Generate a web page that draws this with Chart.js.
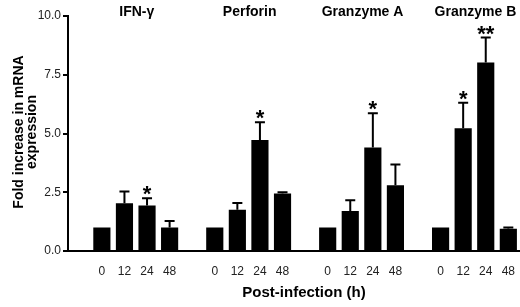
<!DOCTYPE html>
<html>
<head>
<meta charset="utf-8">
<script src="https://cdn.jsdelivr.net/npm/chart.js@4/dist/chart.umd.min.js"></script>
<style>
  html, body { margin: 0; padding: 0; background: #fff; }
  #wrap { width: 520px; height: 307px; position: relative; }
</style>
</head>
<body>
<div id="wrap"><canvas id="mrnaChart"></canvas></div>
<script>
const groups = ["IFN-γ", "Perforin", "Granzyme A", "Granzyme B"];
const timepoints = ["0", "12", "24", "48"];

const ifnMean = [1.0, 2.03, 1.94, 1.0];
const ifnErr = [0, 0.5, 0.3, 0.28];
const perforinMean = [1.0, 1.76, 4.72, 2.45];
const perforinErr = [0, 0.28, 0.76, 0.05];
const gzmAMean = [1.0, 1.7, 4.4, 2.8];
const gzmAErr = [0, 0.46, 1.46, 0.88];
const gzmBMean = [1.0, 5.22, 8.02, 0.95];
const gzmBErr = [0, 1.09, 1.06, 0.05];

const ifnSig = ["", "", "*", ""];
const perforinSig = ["", "", "*", ""];
const gzmASig = ["", "", "*", ""];
const gzmBSig = ["", "*", "**", ""];

const yTicks = [0, 2.5, 5, 7.5, 10];

const means = [ifnMean, perforinMean, gzmAMean, gzmBMean];
const errs = [ifnErr, perforinErr, gzmAErr, gzmBErr];
const sigs = [ifnSig, perforinSig, gzmASig, gzmBSig];

// each group gets an empty slot in front of it
const labels = [];
const values = [];
const errors = [];
const stars = [];
means.forEach((m, g) => {
  labels.push("");
  values.push(null);
  errors.push(null);
  stars.push("");
  timepoints.forEach((t, i) => {
    labels.push(t);
    values.push(m[i]);
    errors.push(errs[g][i]);
    stars.push(sigs[g][i]);
  });
});

const annotations = {
  id: "annotations",
  afterDatasetsDraw(chart) {
    const { ctx, scales } = chart;
    const y = scales.y;
    const meta = chart.getDatasetMeta(0);
    ctx.save();
    ctx.strokeStyle = "#000";
    ctx.fillStyle = "#000";
    ctx.lineWidth = 2;
    meta.data.forEach((bar, i) => {
      if (values[i] == null) return;
      let top = bar.y;
      if (errors[i] > 0) {
        top = y.getPixelForValue(values[i] + errors[i]);
        ctx.beginPath();
        ctx.moveTo(bar.x, bar.y);
        ctx.lineTo(bar.x, top);
        ctx.moveTo(bar.x - 5, top);
        ctx.lineTo(bar.x + 5, top);
        ctx.stroke();
      }
      if (stars[i]) {
        ctx.font = "bold 22px 'Liberation Sans', Arial, sans-serif";
        ctx.textAlign = "center";
        ctx.textBaseline = "alphabetic";
        ctx.fillText(stars[i], bar.x, top + 3);
      }
    });

    // group titles
    ctx.font = "bold 14px 'Liberation Sans', Arial, sans-serif";
    ctx.textAlign = "center";
    ctx.textBaseline = "alphabetic";
    groups.forEach((name, g) => {
      const a = meta.data[g * 5 + 2].x;
      const b = meta.data[g * 5 + 3].x;
      ctx.fillText(name, (a + b) / 2 + 1, 16);
    });

    // axis titles
    ctx.font = "bold 15px 'Liberation Sans', Arial, sans-serif";
    ctx.fillText("Post-infection (h)", 304, 297);

    ctx.translate(0, 132);
    ctx.rotate(-Math.PI / 2);
    ctx.font = "bold 14px 'Liberation Sans', Arial, sans-serif";
    ctx.textBaseline = "alphabetic";
    ctx.fillText("Fold increase in mRNA", 0, 23);
    ctx.fillText("expression", 0, 36);
    ctx.restore();
  }
};

new Chart(document.getElementById("mrnaChart"), {
  type: "bar",
  data: {
    labels: labels,
    datasets: [
      {
        data: values,
        backgroundColor: "#000",
        borderWidth: 0,
        barPercentage: 0.76,
        categoryPercentage: 1.0,
      },
    ],
  },
  options: {
    responsive: true,
    maintainAspectRatio: false,
    animation: false,
    layout: { padding: { top: 16, right: 0, bottom: 0, left: 0 } },
    plugins: {
      legend: { display: false },
      tooltip: { enabled: false },
    },
    scales: {
      x: {
        grid: { display: false },
        border: { display: true, color: "#000", width: 2 },
        ticks: {
          color: "#222",
          padding: 5,
          maxRotation: 0,
          autoSkip: false,
          font: { family: "'Liberation Sans', Arial, sans-serif", size: 12 },
        },
        afterFit(scale) {
          scale.height = 56;
        },
      },
      y: {
        min: 0,
        max: 10,
        afterBuildTicks(scale) {
          scale.ticks = yTicks.map((v) => ({ value: v }));
        },
        grid: {
          display: true,
          drawOnChartArea: false,
          drawTicks: true,
          tickLength: 5,
          color: "#000",
          lineWidth: 2,
        },
        border: { display: true, color: "#000", width: 2 },
        ticks: {
          color: "#222",
          padding: 2,
          font: { family: "'Liberation Sans', Arial, sans-serif", size: 12 },
          callback: (v) => Number(v).toFixed(1),
        },
        afterFit(scale) {
          scale.width = 68;
        },
      },
    },
  },
  plugins: [annotations],
});
</script>
</body>
</html>
